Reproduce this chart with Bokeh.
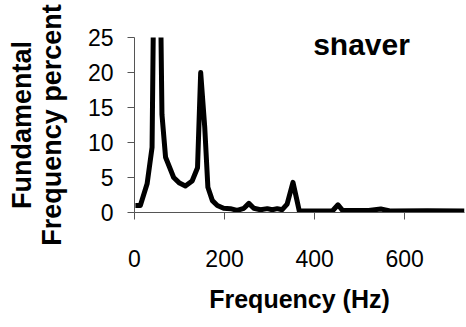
from bokeh.plotting import figure
from bokeh.models import Label, Range1d, FixedTicker
from bokeh.embed import file_html
from bokeh.resources import INLINE

# data
freq_hz = [2, 13, 28, 39, 44, 50, 55, 61, 69, 87, 100, 113, 128, 140, 147, 156, 163, 173, 184,
           198, 213, 228, 243, 254, 265, 280, 295, 306, 317, 328, 339, 352, 361, 366,
           400, 440, 452, 462, 520, 547, 570, 650, 733]
fund_pct = [1.0, 1.0, 4.1, 9.3, 40, 60, 45, 14, 7.9, 5.0, 4.2, 3.8, 4.5, 6.4, 20.0, 12.2, 3.6, 1.7, 1.0,
            0.6, 0.55, 0.3, 0.6, 1.3, 0.6, 0.4, 0.55, 0.4, 0.55, 0.4, 1.2, 4.3, 1.7, 0.2,
            0.2, 0.25, 1.1, 0.3, 0.3, 0.5, 0.2, 0.25, 0.2]
x_ticks = [0, 200, 400, 600]
y_ticks = [0, 5, 10, 15, 20, 25]
title_text = "shaver"
x_label = "Frequency (Hz)"
y_label = "Fundamental\nFrequency percent"

FONT = "Liberation Sans"

p = figure(width=466, height=327, output_backend="svg", toolbar_location=None,
           x_range=Range1d(0, 733), y_range=Range1d(0, 25),
           min_border_left=134, min_border_right=2, min_border_top=37, min_border_bottom=115)
p.outline_line_color = None
p.xgrid.visible = False
p.ygrid.visible = False
p.background_fill_color = "white"
p.border_fill_color = "white"

p.line(freq_hz, fund_pct, line_width=5, line_color="black", line_join="round")

for ax in (p.xaxis[0], p.yaxis[0]):
    ax.axis_line_color = "#555555"
    ax.axis_line_width = 1
    ax.major_tick_line_color = "#555555"
    ax.major_tick_in = 0
    ax.major_tick_out = 7
    ax.minor_tick_line_color = None
    ax.major_label_text_font = FONT
    ax.major_label_text_font_size = "23px"
    ax.major_label_text_color = "black"
    ax.axis_label_text_font = FONT
    ax.axis_label_text_font_style = "bold"
    ax.axis_label_text_color = "black"

p.xaxis[0].axis_label_text_font_size = "25px"
p.yaxis[0].axis_label_text_font_size = "27px"
p.yaxis[0].axis_label_text_line_height = 1.0

p.xaxis[0].ticker = FixedTicker(ticks=x_ticks)
p.yaxis[0].ticker = FixedTicker(ticks=y_ticks)
p.xaxis[0].major_label_standoff = 30
p.yaxis[0].major_label_standoff = 14

p.xaxis[0].axis_label = x_label
p.xaxis[0].axis_label_standoff = 15
p.yaxis[0].axis_label = y_label
p.yaxis[0].axis_label_standoff = 18

# title inside the plot
p.add_layout(Label(x=227, y=168, x_units="screen", y_units="screen", text=title_text,
                   text_font=FONT, text_font_style="bold", text_font_size="30px",
                   text_align="center", text_baseline="alphabetic", text_color="black"))

open("out.html", "w").write(file_html(p, INLINE))
